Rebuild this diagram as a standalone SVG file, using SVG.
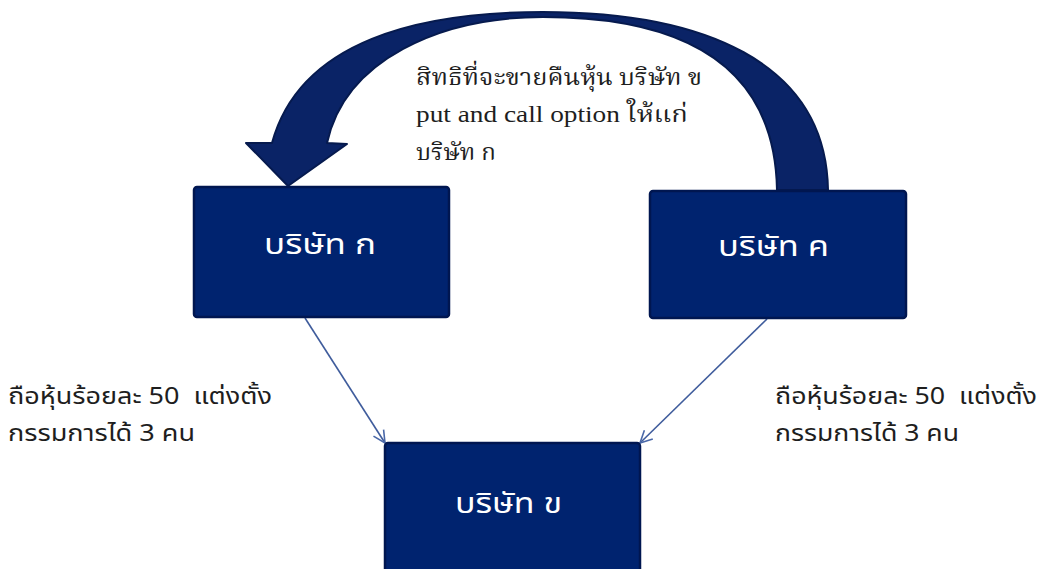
<svg xmlns="http://www.w3.org/2000/svg" width="1039" height="569" viewBox="0 0 1039 569">
<style>
.box{fill:#00236f;stroke:#001650;stroke-width:2.5}
.bt{font-family:"Noto Sans Thai","Tahoma","DejaVu Sans","Noto Sans",sans-serif;font-size:29px;fill:#ffffff}
.lt{font-family:"Noto Sans Thai","Tahoma","DejaVu Sans","Noto Sans",sans-serif;font-size:23px;fill:#1e1e1e;white-space:pre}
.st{font-family:"Liberation Serif","Noto Serif Thai","Noto Sans Thai",serif;font-size:23px;fill:#1e1e1e}
.conn{stroke:#3f5c9c;stroke-width:1.6;fill:none}
</style>
<defs>
<marker id="open" viewBox="0 0 14 14" refX="13" refY="7" markerWidth="14" markerHeight="14" markerUnits="userSpaceOnUse" orient="auto">
<path d="M1,1 L13,7 L1,13" fill="none" stroke="#4a68a8" stroke-width="1.6"/>
</marker>
</defs>
<g id="curved-arrow">
<path d="M272,143 C300,40 420,12 543,12 C700,12 826,60 828,190 L777,190 C775,70 690,17 543,17 C440,17 345,60 327,143 L347,144 L288,186 L246,143 Z" fill="#0a2366" stroke="#061a4e" stroke-width="2" stroke-linejoin="round"/>
</g>
<g id="connectors">
<line class="conn" x1="305" y1="318" x2="385" y2="443" marker-end="url(#open)"/>
<line class="conn" x1="767" y1="319" x2="640" y2="443" marker-end="url(#open)"/>
</g>
<g id="node-a">
<rect class="box" x="194" y="187" width="255" height="130" rx="3"/>
<text class="bt" x="264" y="254" textLength="112" lengthAdjust="spacingAndGlyphs">บริษัท ก</text>
</g>
<g id="node-c">
<rect class="box" x="650" y="191" width="256" height="127" rx="3"/>
<text class="bt" x="718" y="256" textLength="111" lengthAdjust="spacingAndGlyphs">บริษัท ค</text>
</g>
<g id="node-b">
<rect class="box" x="385" y="443" width="255" height="140" rx="3"/>
<text class="bt" x="455" y="513" textLength="107" lengthAdjust="spacingAndGlyphs">บริษัท ข</text>
</g>
<g id="label-top">
<text class="st" x="416" y="85" textLength="286" lengthAdjust="spacingAndGlyphs">สิทธิที่จะขายคืนหุ้น บริษัท ข</text>
<text class="st" x="416" y="122" textLength="272" lengthAdjust="spacingAndGlyphs">put and call option ให้แก่</text>
<text class="st" x="416" y="160" textLength="80" lengthAdjust="spacingAndGlyphs">บริษัท ก</text>
</g>
<g id="label-left">
<text class="lt" x="8" y="404" textLength="264" lengthAdjust="spacingAndGlyphs">ถือหุ้นร้อยละ 50  แต่งตั้ง</text>
<text class="lt" x="8" y="441" textLength="187" lengthAdjust="spacingAndGlyphs">กรรมการได้ 3 คน</text>
</g>
<g id="label-right">
<text class="lt" x="775" y="404" textLength="262" lengthAdjust="spacingAndGlyphs">ถือหุ้นร้อยละ 50  แต่งตั้ง</text>
<text class="lt" x="775" y="441" textLength="184" lengthAdjust="spacingAndGlyphs">กรรมการได้ 3 คน</text>
</g>
</svg>
